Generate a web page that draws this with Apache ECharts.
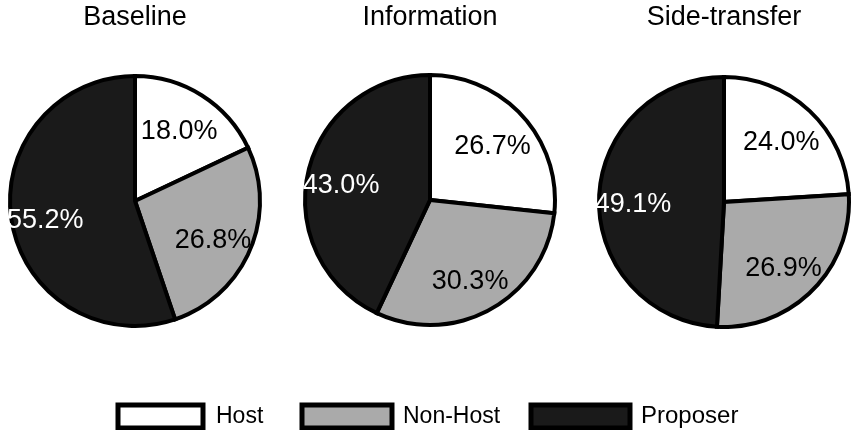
<!DOCTYPE html>
<html>
<head>
<meta charset="utf-8">
<script src="https://cdn.jsdelivr.net/npm/echarts@6/dist/echarts.min.js"></script>
<style>
  html, body { margin: 0; padding: 0; background: #fff; }
  #chart { width: 852px; height: 430px; }
</style>
</head>
<body>
<div id="chart"></div>
<script>
// Share of surplus by role, per treatment
const categories = ['Host', 'Non-Host', 'Proposer'];
const panelTitles = ['Baseline', 'Information', 'Side-transfer'];
const baseline = [18.0, 26.8, 55.2];
const information = [26.7, 30.3, 43.0];
const sideTransfer = [24.0, 26.9, 49.1];

const panelValues = [baseline, information, sideTransfer];
const sliceColors = ['#ffffff', '#aaaaaa', '#1a1a1a'];
const labelColors = ['#000000', '#000000', '#ffffff'];
const centers = [[135, 201], [430, 200], [724, 202]];
const FONT = "'Liberation Sans', Arial, Helvetica, sans-serif";

const chart = echarts.init(document.getElementById('chart'), null, { renderer: 'canvas' });

const series = [];
panelValues.forEach((vals, p) => {
  const data = categories.map((name, i) => ({
    name: name,
    value: vals[i],
    itemStyle: { color: sliceColors[i] }
  }));
  // filled wedges
  series.push({
    type: 'pie',
    center: centers[p],
    radius: [0, 125],
    startAngle: 90,
    clockwise: true,
    silent: true,
    animation: false,
    label: { show: false },
    labelLine: { show: false },
    itemStyle: { borderColor: '#000', borderWidth: 4, borderJoin: 'miter' },
    emphasis: { disabled: true },
    data: data
  });
  // percentage labels, placed at roughly two thirds of the radius
  series.push({
    type: 'pie',
    center: centers[p],
    radius: [46, 124],
    startAngle: 90,
    clockwise: true,
    silent: true,
    animation: false,
    avoidLabelOverlap: false,
    itemStyle: { color: 'rgba(0,0,0,0)', borderWidth: 0 },
    label: {
      show: true,
      position: 'inside',
      fontFamily: FONT,
      fontSize: 27,
      offset: [-3, 5],
      formatter: (d) => d.value.toFixed(1) + '%'
    },
    labelLine: { show: false },
    emphasis: { disabled: true },
    data: categories.map((name, i) => ({
      name: name,
      value: vals[i],
      label: { color: labelColors[i] }
    }))
  });
});

// one legend block per role so each swatch sits at its own spot
const legendLefts = [115.5, 299.5, 528.5];
const legendWidths = [85, 90, 99];
const legendPads = [8, 6, 6];
const legendFont = [23, 23, 24];
const legends = categories.map((name, i) => ({
  left: legendLefts[i],
  top: 402.5,
  padding: 0,
  orient: 'horizontal',
  selectedMode: false,
  itemWidth: legendWidths[i],
  itemHeight: 23,
  icon: 'rect',
  data: [{ name: name, itemStyle: { color: sliceColors[i], borderColor: '#000', borderWidth: 5 } }],
  textStyle: { fontFamily: FONT, fontSize: legendFont[i], color: '#000', padding: [0, 0, 0, legendPads[i]] }
}));

chart.setOption({
  backgroundColor: '#ffffff',
  animation: false,
  title: panelTitles.map((t, i) => ({
    text: t,
    left: centers[i][0],
    top: 4,
    padding: 0,
    textAlign: 'center',
    textStyle: { fontFamily: FONT, fontSize: 27, fontWeight: 'normal', color: '#000' }
  })),
  legend: legends,
  series: series
});
</script>
</body>
</html>
